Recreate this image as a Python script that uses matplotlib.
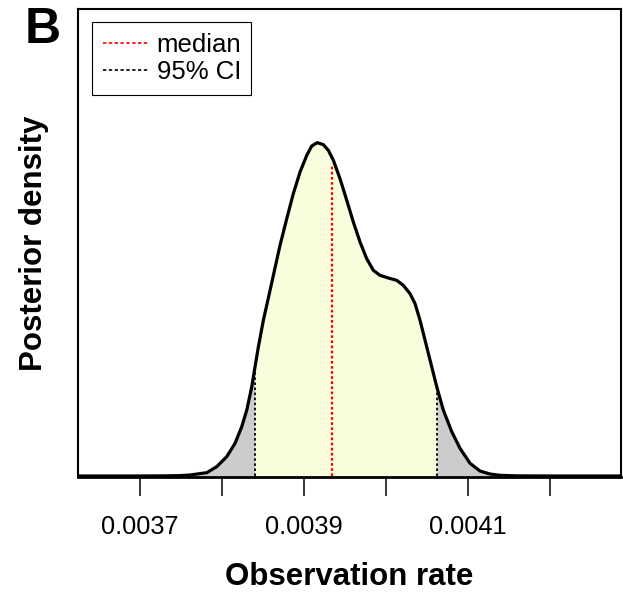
import numpy as np
import matplotlib
matplotlib.use('Agg')
import matplotlib.pyplot as plt
from matplotlib.lines import Line2D

plt.rcParams['font.family'] = ['Liberation Sans', 'DejaVu Sans']

# posterior density curve (relative density, peak = 1)
rate = [0.003625, 0.003660, 0.003700, 0.003730, 0.003750, 0.0037615, 0.0037819,
        0.0037940, 0.0038062, 0.0038163, 0.0038245, 0.0038306, 0.0038367,
        0.0038407, 0.0038447, 0.0038508, 0.0038549, 0.0038630, 0.0038711,
        0.0038793, 0.0038873, 0.0038955, 0.0039037, 0.0039097, 0.0039166,
        0.0039239, 0.0039300, 0.0039361, 0.0039442, 0.0039524, 0.0039604,
        0.0039686, 0.0039767, 0.0039848, 0.0039929, 0.0040030, 0.0040133,
        0.0040213, 0.0040295, 0.0040356, 0.0040417, 0.0040518, 0.0040620,
        0.0040700, 0.0040803, 0.0040904, 0.0041026, 0.0041147, 0.0041269,
        0.0041391, 0.004160, 0.004200, 0.004240, 0.004286]
dens = [0.0, 0.0, 0.0, 0.0004, 0.0012, 0.003, 0.010,
        0.028, 0.058, 0.098, 0.148, 0.198, 0.268,
        0.328, 0.387, 0.467, 0.512, 0.602, 0.692,
        0.772, 0.847, 0.912, 0.962, 0.990, 1.0,
        0.994, 0.977, 0.947, 0.892, 0.827, 0.762,
        0.702, 0.652, 0.617, 0.602, 0.594, 0.587,
        0.572, 0.547, 0.517, 0.467, 0.368, 0.268,
        0.198, 0.133, 0.083, 0.038, 0.015, 0.006,
        0.002, 0.0004, 0.0, 0.0, 0.0]

median = 0.0039345
median_h = 0.932
ci_low, ci_high = 0.0038407, 0.0040620
ci_low_h, ci_high_h = 0.325, 0.264

xticks = [0.0037, 0.0038, 0.0039, 0.0040, 0.0041, 0.0042]
xtick_labels = ['0.0037', '', '0.0039', '', '0.0041', '']

rate = np.array(rate)
dens = np.array(dens)

fig = plt.figure(figsize=(6.23, 5.93), dpi=100)
ax = fig.add_axes([78 / 623, 1 - 477 / 593, 543 / 623, 468 / 593])

# grey tails and yellow central part
lo_mask = rate < ci_low
hi_mask = rate > ci_high
mid_mask = ~lo_mask & ~hi_mask
ax.fill_between(np.append(rate[lo_mask], ci_low), np.append(dens[lo_mask], np.interp(ci_low, rate, dens)),
                color='#cccccc', lw=0)
ax.fill_between(np.insert(rate[hi_mask], 0, ci_high), np.insert(dens[hi_mask], 0, np.interp(ci_high, rate, dens)),
                color='#cccccc', lw=0)
ax.fill_between(rate[mid_mask], dens[mid_mask], color='#f9fddc', lw=0)

ax.plot(rate, dens, color='black', lw=2.3, solid_joinstyle='round')

ax.plot([median, median], [0, median_h], color='red', lw=1.6, dashes=(1.2, 1.1))
ax.plot([ci_low, ci_low], [0, ci_low_h], color='black', lw=1.3, dashes=(1.4, 1.4))
ax.plot([ci_high, ci_high], [0, ci_high_h], color='black', lw=1.3, dashes=(1.4, 1.4))

ax.set_xlim(0.003625, 0.0042865)
ax.set_ylim(-0.003, 1.401)
ax.set_yticks([])
ax.set_xticks(xticks)
ax.set_xticklabels(xtick_labels, fontsize=18.3)
ax.tick_params(axis='x', length=14, width=1.1, pad=13, direction='out')
for s in ax.spines.values():
    s.set_linewidth(1.5)
ax.spines['bottom'].set_linewidth(2)

ax.set_xlabel('Observation rate', fontsize=22.5, fontweight='bold', labelpad=17)
ax.set_ylabel('Posterior density', fontsize=22.5, fontweight='bold', labelpad=21)

handles = [Line2D([], [], color='red', lw=1.2, dashes=(2, 1.5)),
           Line2D([], [], color='black', lw=1.2, dashes=(2, 1.5))]
leg = ax.legend(handles, ['median', '95% CI'], loc='upper left',
                bbox_to_anchor=(0.0263, 0.9716), borderaxespad=0, fontsize=18.5,
                handlelength=1.75, handletextpad=0.35, borderpad=0.4,
                labelspacing=0.15, fancybox=False, framealpha=1)
leg.get_frame().set_edgecolor('black')
leg.get_frame().set_linewidth(0.8)

fig.text(43 / 623, 1 - 30 / 593, 'B', fontsize=36, fontweight='bold',
         ha='center', va='center')

fig.savefig('out.png', dpi=100)
